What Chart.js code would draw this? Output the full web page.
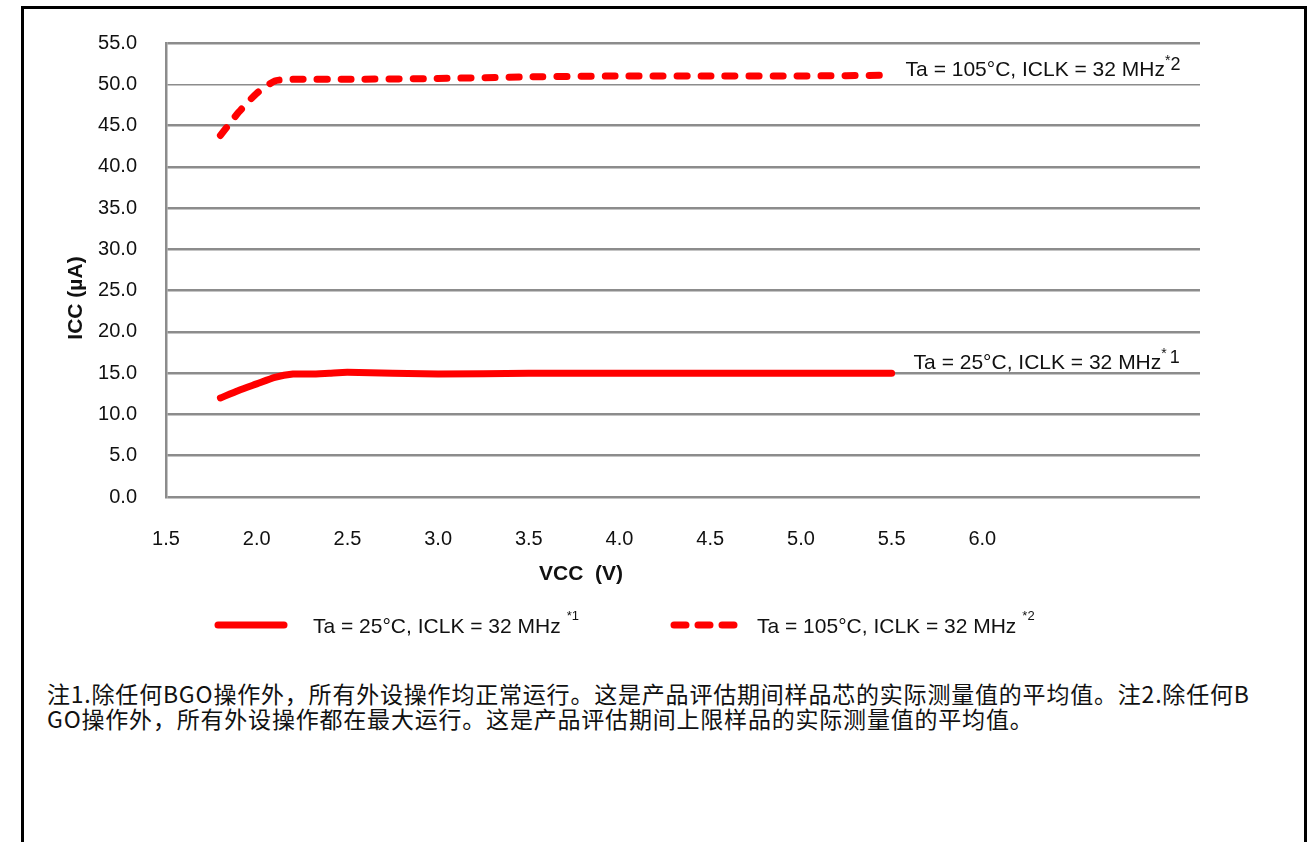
<!DOCTYPE html>
<html>
<head>
<meta charset="utf-8">
<script src="https://cdn.jsdelivr.net/npm/chart.js@4.4.1/dist/chart.umd.min.js"></script>
<style>
  html, body { margin: 0; background: #fff; width: 1315px; height: 842px; overflow: hidden; }
  #frame { position: absolute; left: 21px; top: 6px; width: 1280px; height: 900px; border: 3px solid #000; border-bottom: none; }
  #c { position: absolute; left: 0; top: 0; }
  #note { position: absolute; left: 47px; top: 681px; width: 1210px; font: 23px "Noto Sans CJK SC", sans-serif; letter-spacing: 0.8px; line-height: 25px; color: #111; word-break: break-all; }
</style>
</head>
<body>
<div id="frame"></div>
<canvas id="c" width="1315" height="660"></canvas>
<div id="note">注1.除任何BGO操作外，所有外设操作均正常运行。这是产品评估期间样品芯的实际测量值的平均值。注2.除任何BGO操作外，所有外设操作都在最大运行。这是产品评估期间上限样品的实际测量值的平均值。</div>
<script>
// ── ICC vs VCC, two temperatures ─────────────────────────────────────
const vcc    = [1.8, 1.9, 2.0, 2.1, 2.2, 2.3, 2.4, 2.5, 3.0, 3.5, 4.0, 4.5, 5.0, 5.5];
const icc25  = [12.0, 12.9, 13.7, 14.5, 14.9, 14.9, 15.0, 15.1, 14.9, 15.0, 15.0, 15.0, 15.0, 15.0];
const icc105 = [43.8, 46.6, 48.9, 50.4, 50.6, 50.6, 50.6, 50.6, 50.7, 50.9, 51.0, 51.0, 51.0, 51.1];

const xTicksShown = [1.5, 2.0, 2.5, 3.0, 3.5, 4.0, 4.5, 5.0, 5.5, 6.0];
const label25  = { main: 'Ta = 25°C, ICLK = 32 MHz',  note: '1' };
const label105 = { main: 'Ta = 105°C, ICLK = 32 MHz', note: '2' };
const xTitle = 'VCC  (V)';
const yTitle = 'ICC (µA)';

const RED = '#ff0000';
const GRID = '#8c8c8c';
const SANS = '"Liberation Sans", Arial, sans-serif';

const pts = ys => vcc.map((x, i) => ({ x, y: ys[i] }));

// draw a run of text pieces left to right, each with its own size / offset
function runs(ctx, x, y, parts) {
  for (const p of parts) {
    ctx.font = (p.bold ? 'bold ' : '') + p.size + 'px ' + SANS;
    ctx.fillText(p.t, x, y + (p.dy || 0));
    x += ctx.measureText(p.t).width + (p.gap || 0);
  }
  return x;
}

const extras = {
  id: 'extras',
  afterDraw(chart) {
    const { ctx, scales: { x, y } } = chart;
    ctx.save();
    ctx.fillStyle = '#111';
    ctx.textBaseline = 'alphabetic';

    // end-of-line labels
    const n = vcc.length - 1;
    const ex = x.getPixelForValue(vcc[n]);
    runs(ctx, ex + 14, y.getPixelForValue(icc105[n]) + 1, [
      { t: label105.main, size: 21 },
      { t: '*', size: 14, dy: -11 },
      { t: label105.note, size: 18, dy: -6 }
    ]);
    runs(ctx, ex + 22, y.getPixelForValue(icc25[n]) - 4, [
      { t: label25.main, size: 21 },
      { t: '*', size: 14, dy: -11, gap: 3 },
      { t: label25.note, size: 18, dy: -6 }
    ]);

    // axis titles
    ctx.textAlign = 'center';
    ctx.font = 'bold 21px ' + SANS;
    ctx.fillText(xTitle, 581, 580);
    ctx.save();
    ctx.translate(82, 298);
    ctx.rotate(-Math.PI / 2);
    ctx.fillText(yTitle, 0, 0);
    ctx.restore();
    ctx.textAlign = 'left';

    // legend
    const ly = 625;
    ctx.strokeStyle = RED;
    ctx.lineWidth = 7;
    ctx.lineCap = 'round';
    ctx.beginPath(); ctx.moveTo(218, ly); ctx.lineTo(284, ly); ctx.stroke();
    ctx.setLineDash([12, 12]);
    ctx.beginPath(); ctx.moveTo(674, ly); ctx.lineTo(734, ly); ctx.stroke();
    ctx.setLineDash([]);
    runs(ctx, 313, ly + 8, [
      { t: label25.main, size: 21, gap: 6 },
      { t: '*' + label25.note, size: 13, dy: -13 }
    ]);
    runs(ctx, 757, ly + 8, [
      { t: label105.main, size: 21, gap: 6 },
      { t: '*' + label105.note, size: 13, dy: -13 }
    ]);
    ctx.restore();
  }
};

new Chart(document.getElementById('c'), {
  type: 'line',
  data: {
    datasets: [
      { label: label25.main, data: pts(icc25), borderColor: RED, backgroundColor: RED,
        borderWidth: 7, pointRadius: 0, tension: 0.2, borderCapStyle: 'round', borderJoinStyle: 'round' },
      { label: label105.main, data: pts(icc105), borderColor: RED, backgroundColor: RED,
        borderWidth: 7, pointRadius: 0, tension: 0.2, borderCapStyle: 'round', borderJoinStyle: 'round',
        borderDash: [10, 14] }
    ]
  },
  options: {
    responsive: false, animation: false,
    layout: { padding: { left: 0, right: 115, top: 43, bottom: 0 } },
    plugins: { legend: { display: false }, tooltip: { enabled: false } },
    scales: {
      x: {
        type: 'linear', min: 1.5, max: 7.2,
        afterFit: s => { s.height = 163; },
        grid: { display: false },
        border: { display: false },
        ticks: {
          stepSize: 0.5, padding: 22, maxRotation: 0, color: '#111', font: { family: SANS, size: 20 },
          callback: v => xTicksShown.some(t => Math.abs(t - v) < 1e-6) ? v.toFixed(1) : ''
        }
      },
      y: {
        min: 0, max: 55,
        afterFit: s => { s.width = 166; },
        grid: { color: GRID, lineWidth: c => c.tick && c.tick.value === 50 ? 1.5 : 2.5, drawTicks: false },
        border: { display: true, color: GRID, width: 2.5 },
        ticks: { stepSize: 5, padding: 29, color: '#111', font: { family: SANS, size: 20 }, callback: v => v.toFixed(1) }
      }
    }
  },
  plugins: [extras]
});
</script>
</body>
</html>
